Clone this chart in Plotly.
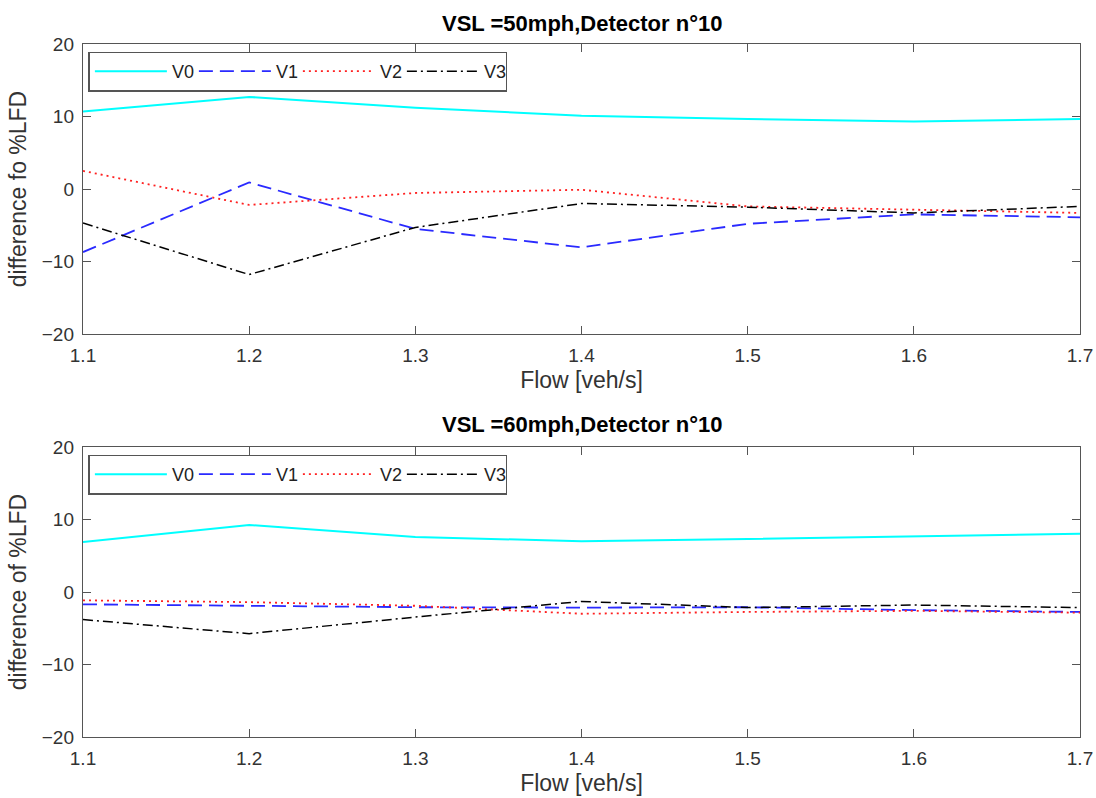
import plotly.graph_objects as go

flow = [1.1, 1.2, 1.3, 1.4, 1.5, 1.6, 1.7]

# VSL = 50 mph
v0_50 = [10.7, 12.7, 11.2, 10.1, 9.65, 9.3, 9.65]
v1_50 = [-8.7, 0.9, -5.5, -8.05, -4.8, -3.5, -3.9]
v2_50 = [2.5, -2.2, -0.55, -0.1, -2.4, -2.85, -3.3]
v3_50 = [-4.7, -11.8, -5.3, -2.0, -2.5, -3.3, -2.4]

# VSL = 60 mph
v0_60 = [6.9, 9.25, 7.6, 7.0, 7.3, 7.7, 8.05]
v1_60 = [-1.7, -1.9, -2.1, -2.15, -2.1, -2.5, -2.75]
v2_60 = [-1.15, -1.4, -1.9, -3.0, -2.75, -2.6, -2.85]
v3_60 = [-3.8, -5.75, -3.45, -1.3, -2.15, -1.8, -2.15]

names = ["V0", "V1", "V2", "V3"]
titles = ["VSL =50mph,Detector n°10", "VSL =60mph,Detector n°10"]
ytitles = ["difference fo %LFD", "difference of %LFD"]
xtitle = "Flow [veh/s]"
xticks = [1.1, 1.2, 1.3, 1.4, 1.5, 1.6, 1.7]
yticks = [-20, -10, 0, 10, 20]

styles = [
    dict(color="#00ffff", dash="solid", width=2),
    dict(color="#2a2aff", dash="14px,7px", width=1.8),
    dict(color="#ff2020", dash="2px,4px", width=1.8),
    dict(color="#000000", dash="10px,4px,2px,4px", width=1.5),
]

FONT = "Liberation Sans, Arial, Helvetica"
W, H = 1096, 798
L, R, T, B = 82.5, 16, 44, 61
ph = H - T - B
top_dom = [(737 - 334) / ph, 1.0]
bot_dom = [0.0, (737 - 447) / ph]

fig = go.Figure()
series = [[v0_50, v1_50, v2_50, v3_50], [v0_60, v1_60, v2_60, v3_60]]
for k, ss in enumerate(series):
    xa = "x" if k == 0 else "x2"
    ya = "y" if k == 0 else "y2"
    lg = "legend" if k == 0 else "legend2"
    for i, s in enumerate(ss):
        fig.add_trace(go.Scatter(
            x=flow, y=s, mode="lines", name=names[i], line=styles[i],
            xaxis=xa, yaxis=ya, legend=lg, showlegend=True,
        ))

axis_common = dict(
    showgrid=False, zeroline=False, showline=True, linecolor="#555555", linewidth=1.4,
    mirror="ticks", ticks="inside", ticklen=8, tickcolor="#555555", tickwidth=1.4,
    tickfont=dict(family=FONT, size=19, color="#333333"), ticklabelstandoff=4,
    automargin=False,
)
tfont = dict(family=FONT, size=23, color="#333333")
lfont = dict(family=FONT, size=18, color="#222222")

legend_common = dict(orientation="h", xanchor="left", yanchor="top",
                     bordercolor="#555555", borderwidth=1.4, bgcolor="white",
                     itemwidth=72, entrywidth=17, font=lfont, tracegroupgap=0)

fig.update_layout(
    width=W, height=H,
    margin=dict(l=L, r=R, t=T, b=B, autoexpand=False),
    plot_bgcolor="white", paper_bgcolor="white",
    xaxis=dict(axis_common, domain=[0, 1], range=[1.1, 1.7], tickvals=xticks,
               ticktext=[f"{v:.1f}" for v in xticks], anchor="y",
               title=dict(text=xtitle, font=tfont, standoff=6)),
    yaxis=dict(axis_common, domain=top_dom, range=[-20, 20], tickvals=yticks, anchor="x",
               title=dict(text=ytitles[0], font=tfont, standoff=8)),
    xaxis2=dict(axis_common, domain=[0, 1], range=[1.1, 1.7], tickvals=xticks,
                ticktext=[f"{v:.1f}" for v in xticks], anchor="y2",
                title=dict(text=xtitle, font=tfont, standoff=6)),
    yaxis2=dict(axis_common, domain=bot_dom, range=[-20, 20], tickvals=yticks, anchor="x2",
                title=dict(text=ytitles[1], font=tfont, standoff=8)),
    legend=dict(legend_common, x=0.0055, y=0.989),
    legend2=dict(legend_common, x=0.0055, y=bot_dom[1] - 0.011),
    annotations=[
        dict(text=f"<b>{titles[0]}</b>", x=0.5, xref="paper", y=top_dom[1], yref="paper",
             yanchor="bottom", yshift=6, showarrow=False,
             font=dict(family=FONT, size=22, color="#000000")),
        dict(text=f"<b>{titles[1]}</b>", x=0.5, xref="paper", y=bot_dom[1], yref="paper",
             yanchor="bottom", yshift=8, showarrow=False,
             font=dict(family=FONT, size=22, color="#000000")),
    ],
)

fig.write_html("out.html")
